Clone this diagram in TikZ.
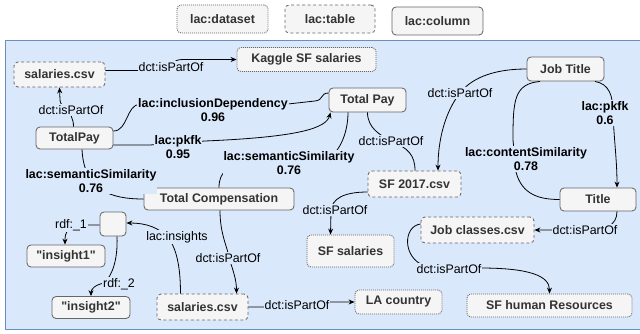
\documentclass[tikz,border=0pt]{standalone}
\usepackage{fontspec}
\setmainfont{Liberation Sans}[Ligatures=TeXOff]
\usetikzlibrary{arrows.meta}
\definecolor{bgblue}{HTML}{DAE8FC}
\definecolor{bgborder}{HTML}{6C8EBF}
\definecolor{nodefill}{HTML}{F5F5F5}
\definecolor{nodedraw}{HTML}{666666}
\definecolor{nodetext}{HTML}{333333}
\newcommand\myfs{\fontsize{12.4}{14}\selectfont}
\tikzset{
 base/.style={rounded corners=4pt, fill=nodefill, draw=nodedraw, line width=0.85pt, font=\bfseries\myfs, text=nodetext, inner sep=0pt},
 colbox/.style={base},
 tabbox/.style={base, dash pattern=on 3pt off 2.5pt},
 dsetbox/.style={base, dash pattern=on 1pt off 1pt},
 lbl/.style={fill=bgblue, inner sep=1pt, font=\myfs, align=center},
 blbl/.style={lbl, font=\bfseries\myfs},
 edge/.style={line width=0.8pt},
 arr/.style={edge, -{Stealth[length=6pt,width=5pt]}}
}
\begin{document}
\begin{tikzpicture}[x=1pt,y=-1pt]
\useasboundingbox (0,0) rectangle (640,333);
\fill[bgblue, draw=bgborder, line width=0.9pt] (5,40) rectangle (646,329);
% legend
\node[dsetbox, minimum width=91pt, minimum height=28pt] (leg1) at (222.5,19) {lac:dataset};
\node[tabbox, minimum width=90pt, minimum height=28pt] (leg2) at (330,19) {lac:table};
\node[colbox, minimum width=91pt, minimum height=28pt] (leg3) at (437.5,21) {lac:column};
% nodes
\node[tabbox, minimum width=91pt, minimum height=25pt] (sal1) at (59.5,74.5) {salaries.csv};
\node[dsetbox, minimum width=139pt, minimum height=24pt] (kaggle) at (306.5,59.5) {Kaggle SF salaries};
\node[colbox, minimum width=77pt, minimum height=22pt] (totalpay) at (74.5,138) {TotalPay};
\node[colbox, minimum width=77pt, minimum height=24pt] (totpay2) at (367.5,100) {Total Pay};
\node[colbox, minimum width=150pt, minimum height=22pt] (tc) at (219,199) {Total Compensation};
\node[tabbox, minimum width=93pt, minimum height=26pt] (sf2017) at (414.5,184) {SF 2017.csv};
\node[colbox, minimum width=77pt, minimum height=24pt] (jobtitle) at (565.5,69) {Job Title};
\node[colbox, minimum width=76pt, minimum height=23pt] (title) at (598,199.5) {Title};
\node[tabbox, minimum width=113pt, minimum height=26pt] (jobclasses) at (477.5,230) {Job classes.csv};
\node[dsetbox, minimum width=87pt, minimum height=32pt] (sfsal) at (350.5,251) {SF salaries};
\node[dsetbox, minimum width=165pt, minimum height=23pt] (sfhr) at (549.5,305.5) {SF human Resources};
\node[dsetbox, minimum width=87pt, minimum height=24pt] (lacountry) at (398.5,302) {LA country};
\node[tabbox, minimum width=91pt, minimum height=26pt] (sal2) at (202.5,307) {salaries.csv};
\node[colbox, minimum width=26pt, minimum height=24pt] (blank) at (113,224) {};
\node[colbox, minimum width=78pt, minimum height=22pt] (ins1) at (66,256) {"insight1"};
\node[colbox, minimum width=78pt, minimum height=22pt] (ins2) at (91,307.5) {"insight2"};
% edges
\draw[arr] ([yshift=4pt]sal1.east) -- (160,70.5) .. controls (172,70.5) and (170,59.5) .. (182,59.5) -- (kaggle.west);
\draw[arr] ([xshift=-1pt]totalpay.north) .. controls (73.5,110) and (60,108) .. (60,100) -- (sal1.south);
\draw[edge] ([yshift=7pt]totalpay.east) .. controls (128,131) and (126,105) .. (140,104) -- (288,104) -- (315,101) .. controls (324,100) and (320,93) .. ([yshift=7pt]totpay2.west);
\draw[arr] ([yshift=-7pt]totalpay.east) -- (150,145) -- (205,141) .. controls (300,137) and (326,128) .. ([xshift=2pt]totpay2.south west);
\draw[edge] ([xshift=7.5pt]totalpay.south) .. controls (84,190) and (110,199) .. (tc.west);
\draw[edge] (tc.north) .. controls (219,170) and (230,165) .. (250,165) -- (325,160) .. controls (338,155) and (348,135) .. ([xshift=-19.5pt]totpay2.south);
\draw[edge] (totpay2.south) .. controls (367.5,128) and (380,135) .. (391,141) .. controls (408,148) and (415,155) .. ([xshift=0.5pt]sf2017.north);
\draw[arr] (jobtitle.west) .. controls (490,69) and (470,80) .. (460,93) .. controls (445,112) and (438,140) .. ([xshift=23.5pt]sf2017.north);
\draw[edge] ([xshift=-25.5pt]jobtitle.south) .. controls (514,84) and (513,100) .. (513,140) -- (516,172) .. controls (522,195) and (540,199.5) .. (title.west);
\draw[arr] ([xshift=29.5pt]jobtitle.south) .. controls (609,84) and (613,95) .. (613,113) .. controls (614,140) and (617,160) .. ([xshift=19pt]title.north);
\draw[arr] ([xshift=19pt]title.south) .. controls (617,226) and (605,230) .. (585,230) -- (jobclasses.east);
\draw[arr] ([yshift=6pt]jobclasses.west) .. controls (403,226) and (402,258) .. (425,266) -- (480,268) .. controls (530,268) and (549.5,276) .. (sfhr.north);
\draw[arr] ([yshift=-8pt]sf2017.west) .. controls (345,192) and (331,198) .. (331,212) -- ([xshift=-20pt]sfsal.north);
\draw[arr] ([xshift=1pt]tc.south) .. controls (220,235) and (228,248) .. (229,258) .. controls (233,270) and (236.5,280) .. ([xshift=34pt]sal2.north);
\draw[arr] (sal2.east) -- (285,307) -- (310,302) -- (lacountry.west);
\draw[arr] ([xshift=-22pt]sal2.north) .. controls (180.5,265) and (176,250) .. (170,240) .. controls (160,227) and (145,223) .. ([yshift=1pt]blank.east);
\draw[arr] ([yshift=-1pt]blank.west) -- (78,225) .. controls (67,226) and (65,233) .. ([xshift=-1pt]ins1.north);
\draw[arr] ([xshift=4pt]blank.south) .. controls (118,260) and (112,276) .. (104,283) .. controls (95,285) and (91,289) .. (ins2.north);
% labels
\node[lbl] (l1) at (171,67) {dct:isPartOf};
\node[lbl] (l2) at (71,110) {dct:isPartOf};
\node[blbl] (l3) at (213,110) {lac:inclusionDependency\\0.96};
\node[blbl] (l4) at (178,147) {lac:pkfk\\0.95};
\node[blbl] (l5) at (91,181) {lac:semanticSimilarity\\0.76};
\node[blbl] (l6) at (289,163) {lac:semanticSimilarity\\0.76};
\node[lbl] (l7) at (391,141) {dct:isPartOf};
\node[lbl] (l8) at (460,93) {dct:isPartOf};
\node[blbl] (l9) at (526,159) {lac:contentSimilarity\\0.78};
\node[blbl] (l10) at (605,113) {lac:pkfk\\0.6};
\node[lbl] (l11) at (585,230) {dct:isPartOf};
\node[lbl] (l12) at (449,269) {dct:isPartOf};
\node[lbl] (l13) at (335,210) {dct:isPartOf};
\node[lbl] (l14) at (228,258) {dct:isPartOf};
\node[lbl] (l15) at (297,305) {dct:isPartOf};
\node[lbl] (l16) at (177,237) {lac:insights};
\node[lbl] (l17) at (71,225) {rdf:\_1};
\node[lbl] (l18) at (119,284) {rdf:\_2};
\end{tikzpicture}
\end{document}
